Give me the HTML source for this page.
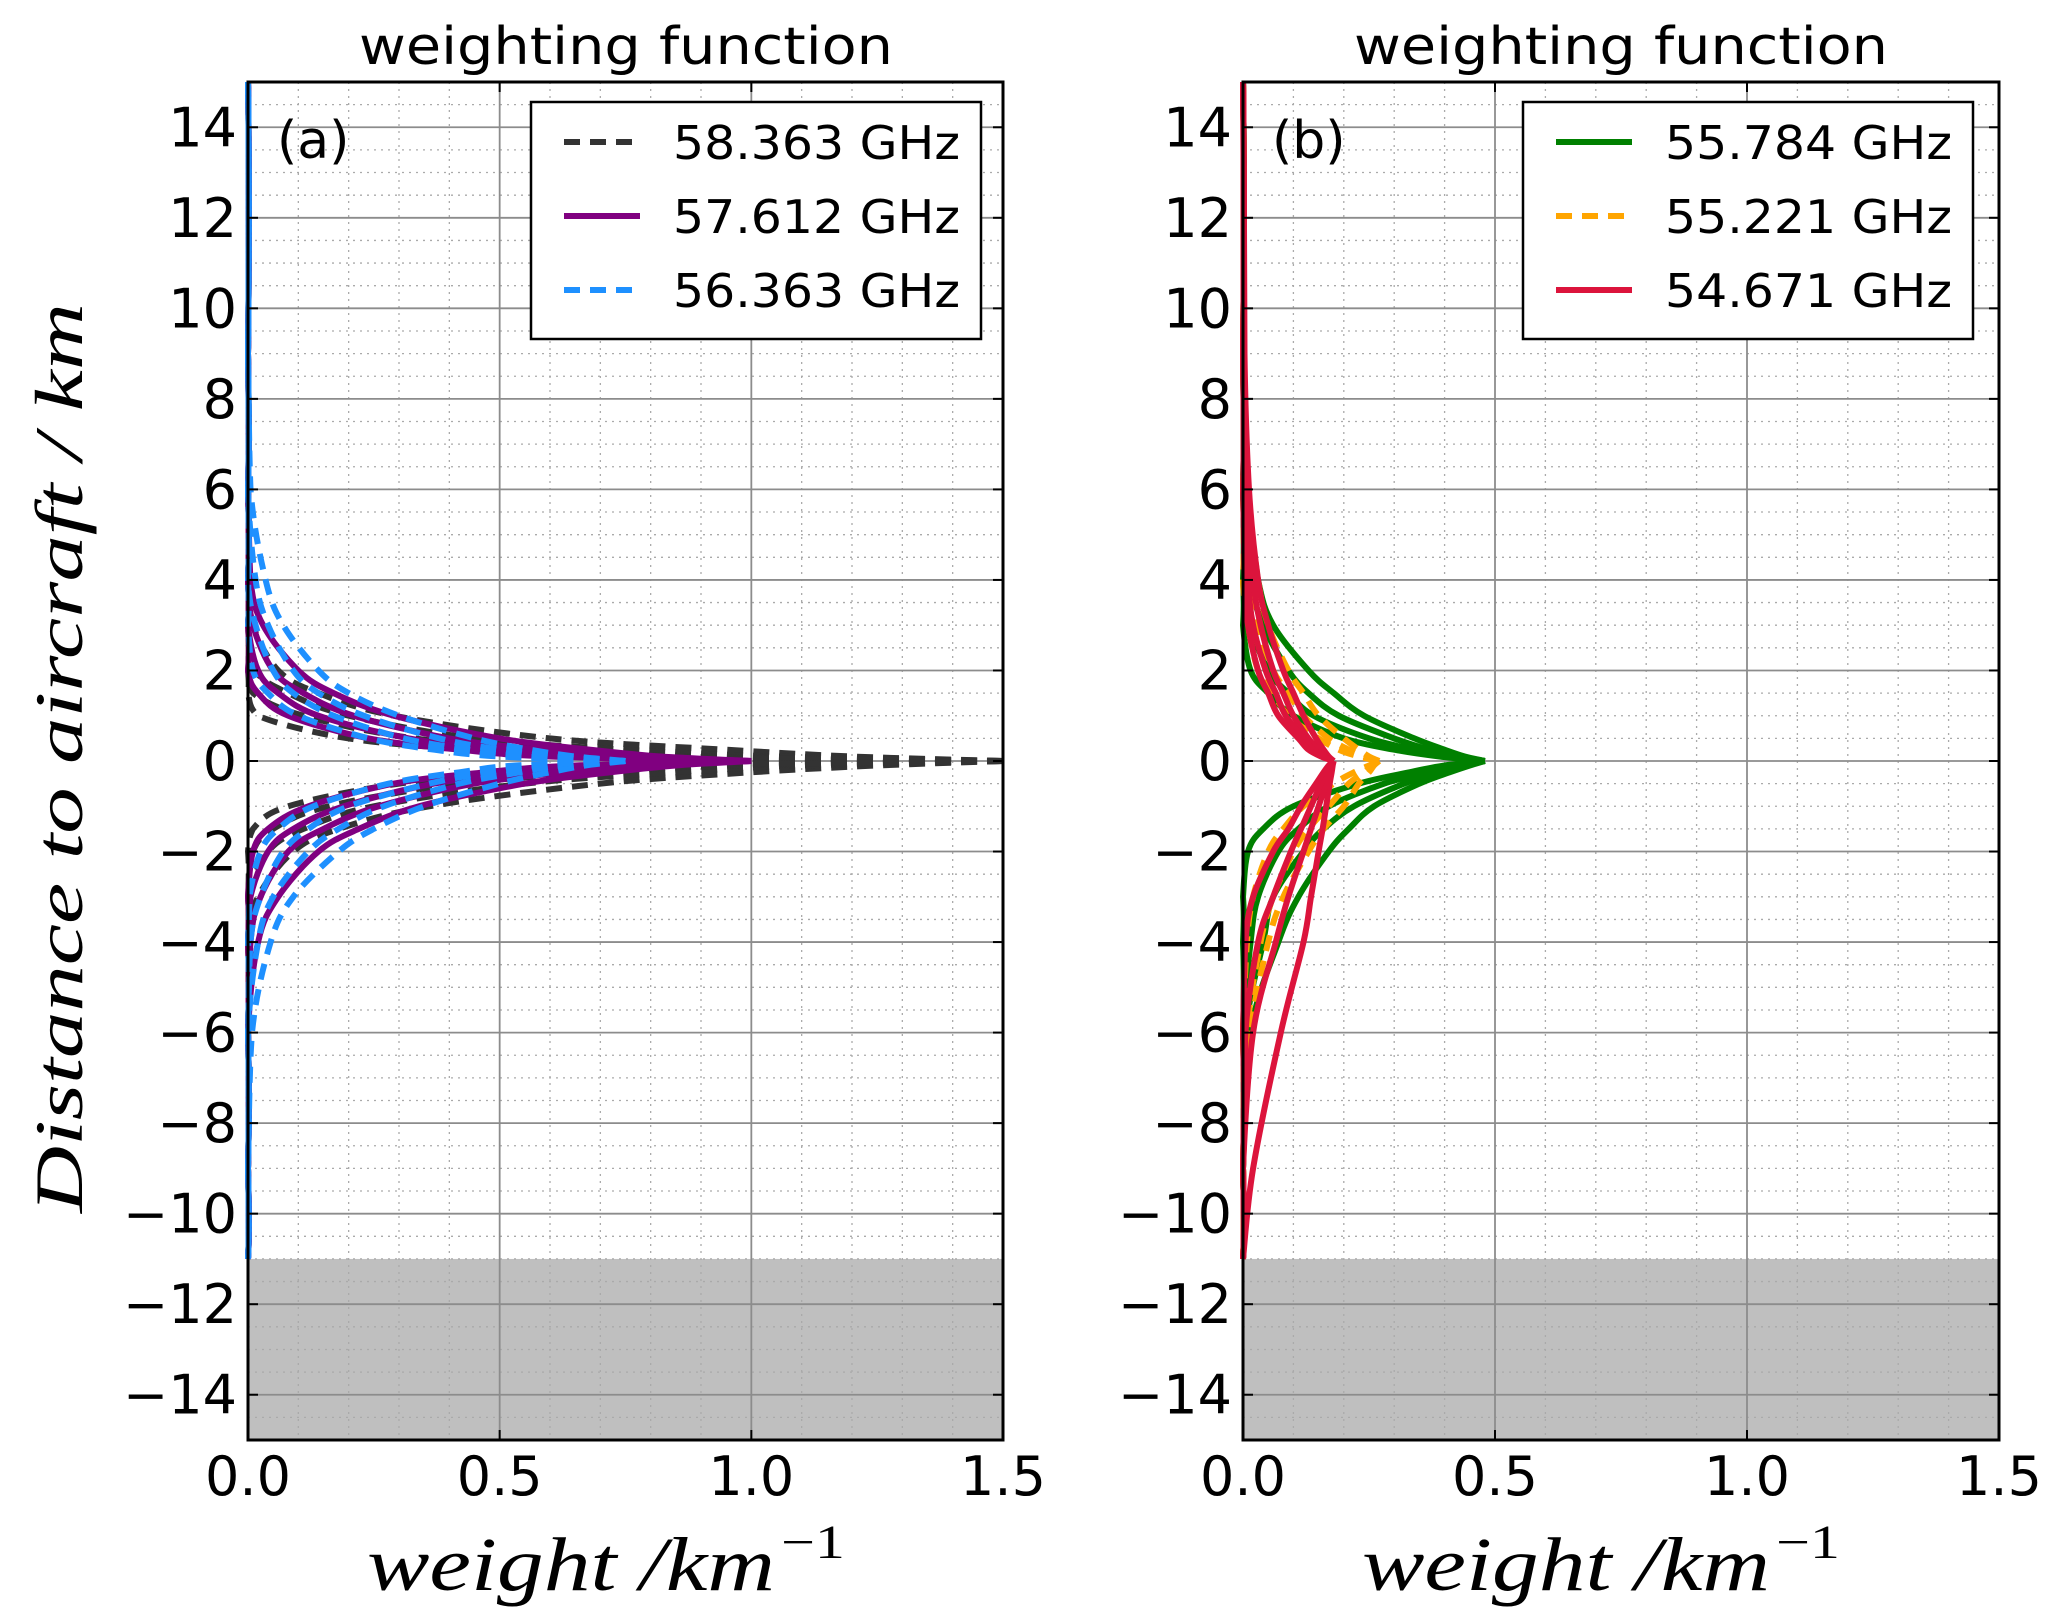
<!DOCTYPE html>
<html><head><meta charset="utf-8">
<style>
html,body{margin:0;padding:0;background:#fff;}
svg{display:block;}
</style></head>
<body>
<svg id="fig" xmlns="http://www.w3.org/2000/svg" width="2067" height="1623" viewBox="0 0 2067 1623">
<rect x="0" y="0" width="2067" height="1623" fill="#fff"/>
<g id="panelA"></g>
<g id="panelB"></g>

<text transform="translate(82,758) rotate(-90)" text-anchor="middle" font-family="Liberation Serif, serif" font-style="italic" font-size="68" textLength="910" lengthAdjust="spacingAndGlyphs">Distance to aircraft / km</text>

<text x="367" y="1590" font-family="Liberation Serif, serif" font-style="italic" font-size="76" textLength="408" lengthAdjust="spacingAndGlyphs">weight /km</text>
<text x="781" y="1558" font-family="Liberation Serif, serif" font-size="48" textLength="64" lengthAdjust="spacingAndGlyphs">−1</text>
<text x="1362" y="1590" font-family="Liberation Serif, serif" font-style="italic" font-size="76" textLength="408" lengthAdjust="spacingAndGlyphs">weight /km</text>
<text x="1776" y="1558" font-family="Liberation Serif, serif" font-size="48" textLength="64" lengthAdjust="spacingAndGlyphs">−1</text>

<text x="626" y="64" text-anchor="middle" font-family="DejaVu Sans, sans-serif" font-size="52" textLength="534" lengthAdjust="spacingAndGlyphs">weighting function</text>
<text x="1621" y="64" text-anchor="middle" font-family="DejaVu Sans, sans-serif" font-size="52" textLength="534" lengthAdjust="spacingAndGlyphs">weighting function</text>
</svg>
<script>
// ---- data ----
const zUp   = [0, 0.1, 0.25, 0.5, 1, 1.5, 2, 3, 4, 6, 9, 15];
const zDown = [0, -0.1, -0.25, -0.5, -1, -1.5, -2, -3, -4, -6, -9, -11];
const xTicks = [0.0, 0.5, 1.0, 1.5];
const xTickLabels = ["0.0", "0.5", "1.0", "1.5"];
const yTicks = [14, 12, 10, 8, 6, 4, 2, 0, -2, -4, -6, -8, -10, -12, -14];
const yTickLabels = ["14","12","10","8","6","4","2","0","−2","−4","−6","−8","−10","−12","−14"];
const surfaceRange = [-11, -15];
const legendA = ["58.363 GHz", "57.612 GHz", "56.363 GHz"];
const legendB = ["55.784 GHz", "55.221 GHz", "54.671 GHz"];

// panel a: 58.363 GHz (black dashed)
const blackUp = [
  [1.5,1.2,.95,.6,.29,.14,.06,.01,0,0,0,0],
  [1.5,1.05,.75,.45,.2,.08,.015,0,0,0,0,0],
  [1.5,.9,.6,.33,.11,.01,0,0,0,0,0,0],
  [1.5,.75,.45,.2,.02,0,0,0,0,0,0,0]];
const blackDown = [
  [1.5,1.25,1.0,.7,.36,.18,.09,.02,0,0,0,0],
  [1.5,1.1,.85,.55,.25,.11,.04,0,0,0,0,0],
  [1.5,.95,.7,.42,.16,.05,.01,0,0,0,0,0],
  [1.5,.8,.55,.3,.08,.01,0,0,0,0,0,0]];
// 57.612 GHz (purple)
const purpleUp = [
  [1,.82,.68,.5,.29,.17,.1,.03,.005,0,0,0],
  [1,.75,.58,.4,.21,.11,.05,.01,0,0,0,0],
  [1,.68,.5,.32,.14,.06,.02,0,0,0,0,0],
  [1,.6,.42,.24,.08,.02,0,0,0,0,0,0]];
const purpleDown = [
  [1,.85,.72,.55,.34,.22,.14,.06,.02,0,0,0],
  [1,.78,.63,.45,.26,.15,.08,.025,.005,0,0,0],
  [1,.72,.55,.37,.19,.09,.04,.005,0,0,0,0],
  [1,.65,.47,.29,.12,.04,.01,0,0,0,0,0]];
// 56.363 GHz (blue dashed)
const blueUp = [
  [.75,.65,.56,.45,.3,.2,.14,.07,.035,.005,0,0],
  [.75,.6,.5,.38,.23,.14,.09,.04,.015,0,0,0],
  [.75,.55,.44,.31,.17,.09,.05,.015,0,0,0,0],
  [.75,.5,.37,.24,.1,.04,.01,0,0,0,0,0]];
const blueDown = [
  [.75,.67,.6,.5,.35,.25,.18,.09,.045,.008,0,0],
  [.75,.62,.54,.42,.27,.18,.12,.05,.02,0,0,0],
  [.75,.58,.48,.36,.2,.12,.07,.025,.005,0,0,0],
  [.75,.53,.42,.28,.13,.06,.025,.003,0,0,0,0]];

// panel b: 55.784 GHz (green)
const greenUp = [
  [.48,.44,.40,.34,.24,.18,.13,.06,.03,.005,0,0],
  [.48,.43,.37,.30,.19,.13,.09,.04,.015,0,0,0],
  [.48,.41,.34,.25,.14,.09,.05,.015,.003,0,0,0],
  [.48,.39,.30,.20,.10,.05,.015,0,0,0,0,0]];
const greenDown = [
  [.48,.45,.41,.35,.26,.21,.17,.11,.07,.015,0,0],
  [.48,.44,.39,.32,.22,.16,.12,.06,.04,.005,0,0],
  [.48,.43,.37,.28,.17,.11,.07,.03,.015,0,0,0],
  [.48,.40,.33,.23,.10,.04,.01,0,0,0,0,0]];
// 55.221 GHz (orange dashed)
const orangeUp = [
  [.27,.25,.23,.20,.15,.12,.09,.05,.03,.01,0,0],
  [.27,.24,.21,.17,.12,.09,.06,.03,.015,.003,0,0],
  [.27,.23,.19,.15,.09,.06,.03,.01,0,0,0,0]];
const orangeDown = [
  [.27,.26,.25,.23,.20,.16,.13,.08,.05,.015,0,0],
  [.27,.255,.24,.21,.17,.13,.10,.06,.035,.008,0,0],
  [.27,.25,.22,.18,.12,.08,.05,.02,.008,0,0,0]];
// 54.671 GHz (red)
const redUp = [
  [.18,.17,.16,.145,.12,.10,.08,.05,.03,.012,.003,0],
  [.18,.165,.15,.13,.10,.08,.06,.035,.02,.006,0,0],
  [.18,.16,.14,.12,.085,.065,.045,.02,.01,.002,0,0],
  [.18,.155,.13,.11,.07,.05,.03,.01,.003,0,0,0]];
const redDown = [
  [.18,.178,.176,.172,.165,.158,.15,.135,.12,.075,.02,0],
  [.18,.175,.172,.165,.15,.135,.12,.09,.065,.02,0,0],
  [.18,.174,.168,.155,.135,.115,.095,.06,.03,.005,0,0],
  [.18,.17,.16,.145,.115,.09,.06,.02,.005,0,0,0]];

// ---- drawing ----
const NS = "http://www.w3.org/2000/svg";
const TOP = 82, BOT = 1440, YMIN = -15, YMAX = 15, XMIN = 0, XMAX = 1.5;
function mk(tag, attrs, parent) {
  const e = document.createElementNS(NS, tag);
  for (const k in attrs) e.setAttribute(k, attrs[k]);
  parent.appendChild(e);
  return e;
}
function makeAxes(left, right) {
  return {
    x: v => left + (v - XMIN) / (XMAX - XMIN) * (right - left),
    y: v => TOP + (YMAX - v) / (YMAX - YMIN) * (BOT - TOP),
    left, right
  };
}
let minX = 0;
function smoothPath(pts) {
  let d = "M" + pts[0][0].toFixed(1) + "," + pts[0][1].toFixed(1);
  for (let i = 0; i < pts.length - 1; i++) {
    const p0 = pts[Math.max(0, i - 1)], p1 = pts[i], p2 = pts[i + 1], p3 = pts[Math.min(pts.length - 1, i + 2)];
    const c1 = [p1[0] + (p2[0] - p0[0]) / 6, p1[1] + (p2[1] - p0[1]) / 6];
    const c2 = [p2[0] - (p3[0] - p1[0]) / 6, p2[1] - (p3[1] - p1[1]) / 6];
    if (i === 0) { c1[0] = p1[0] + (p2[0] - p1[0]) / 3; c1[1] = p1[1] + (p2[1] - p1[1]) / 3; }
    c1[0] = Math.max(c1[0], minX); c2[0] = Math.max(c2[0], minX);
    d += " C" + c1[0].toFixed(1) + "," + c1[1].toFixed(1) + " " + c2[0].toFixed(1) + "," + c2[1].toFixed(1) + " " + p2[0].toFixed(1) + "," + p2[1].toFixed(1);
  }
  return d;
}
function drawPanel(g, ax, label, series, legendNames, legendX) {
  minX = ax.left + 1;
  const bg = mk("rect", {x: ax.left, y: TOP, width: ax.right - ax.left, height: BOT - TOP, fill: "#fff"}, g);
  
  
  const shade = mk("rect", {x: ax.left, y: ax.y(surfaceRange[0]), width: ax.right - ax.left, height: ax.y(surfaceRange[1]) - ax.y(surfaceRange[0]), fill: "#bfbfbf"}, g);
  
  
  const grid = mk("g", {}, g);
  
  
  for (let i = 1; i < 15; i++) {
    if (i % 5 === 0) continue;
    const x = ax.x(i * 0.1);
    mk("line", {x1: x, x2: x, y1: TOP, y2: BOT, stroke: "#aaa", "stroke-width": 1.3, "stroke-dasharray": "2,5"}, grid);
  }
  for (let v = -14.5; v < 15; v += 1) {
    const y = ax.y(v);
    mk("line", {x1: ax.left, x2: ax.right, y1: y, y2: y, stroke: "#aaa", "stroke-width": 1.3, "stroke-dasharray": "2,5"}, grid);
  }
  for (let v = -15; v <= 15; v += 1) {
    if (Math.abs(v % 2) === 1) {
      const y = ax.y(v);
      mk("line", {x1: ax.left, x2: ax.right, y1: y, y2: y, stroke: "#aaa", "stroke-width": 1.3, "stroke-dasharray": "2,5"}, grid);
    }
  }
  xTicks.forEach(t => {
    const x = ax.x(t);
    mk("line", {x1: x, x2: x, y1: TOP, y2: BOT, stroke: "#8c8c8c", "stroke-width": 1.8}, grid);
  });
  yTicks.forEach(t => {
    const y = ax.y(t);
    mk("line", {x1: ax.left, x2: ax.right, y1: y, y2: y, stroke: "#8c8c8c", "stroke-width": 1.8}, grid);
  });
  series.forEach(s => {
    const sg = mk("g", {}, g);
    
    
    [[s.up, zUp], [s.down, zDown]].forEach(([arr, zs]) => {
      arr.forEach(vals => {
        const pts = vals.map((w, i) => [ax.x(w), ax.y(zs[i])]);
        const p = mk("path", {d: smoothPath(pts), fill: "none", stroke: s.color, "stroke-width": 6, "stroke-linejoin": "round"}, sg);
        if (s.dash) p.setAttribute("stroke-dasharray", s.dash);
        
        
      });
    });
  });
  const fr = mk("rect", {x: ax.left, y: TOP, width: ax.right - ax.left, height: BOT - TOP, fill: "none", stroke: "#000", "stroke-width": 3}, g);
  
  
  xTicks.forEach((t, i) => {
    const x = ax.x(t);
    mk("line", {x1: x, x2: x, y1: BOT, y2: BOT - 10, stroke: "#000", "stroke-width": 2}, g);
    mk("line", {x1: x, x2: x, y1: TOP, y2: TOP + 10, stroke: "#000", "stroke-width": 2}, g);
    const tx = mk("text", {x: x, y: 1495, "text-anchor": "middle", "font-family": "DejaVu Sans, sans-serif", "font-size": 54}, g);
    tx.textContent = xTickLabels[i];
    
    
  });
  yTicks.forEach((t, i) => {
    const y = ax.y(t);
    mk("line", {x1: ax.left, x2: ax.left + 10, y1: y, y2: y, stroke: "#000", "stroke-width": 2}, g);
    mk("line", {x1: ax.right, x2: ax.right - 10, y1: y, y2: y, stroke: "#000", "stroke-width": 2}, g);
    const ty = mk("text", {x: ax.left - 11, y: y + 19, "text-anchor": "end", "font-family": "DejaVu Sans, sans-serif", "font-size": 54}, g);
    ty.textContent = yTickLabels[i];
    
    
  });
  const pl = mk("text", {x: ax.left + 29, y: 158, "font-family": "DejaVu Sans, sans-serif", "font-size": 52}, g);
  pl.textContent = label;
  
  
  const lg = mk("g", {}, g);
  
  
  mk("rect", {x: legendX, y: 102, width: 450, height: 237, fill: "#fff", stroke: "#000", "stroke-width": 2.5}, lg);
  const ys = [142, 216, 290];
  legendNames.forEach((n, i) => {
    const s = series[i];
    const e = mk("g", {}, lg);
    
    
    const ln = mk("line", {x1: legendX + 33, x2: legendX + 109, y1: ys[i], y2: ys[i], stroke: s.color, "stroke-width": 6}, e);
    if (s.dash) ln.setAttribute("stroke-dasharray", s.dash);
    const t = mk("text", {x: legendX + 142, y: ys[i] + 17, "font-family": "DejaVu Sans, sans-serif", "font-size": 46, textLength: 287, lengthAdjust: "spacingAndGlyphs"}, e);
    t.textContent = n;
  });
}
const axA = makeAxes(248, 1003);
const axB = makeAxes(1243, 1999);
drawPanel(document.getElementById("panelA"), axA, "(a)", [
  {name: "series-58-363", color: "#333333", dash: "16,10", up: blackUp, down: blackDown},
  {name: "series-57-612", color: "#800080", dash: null, up: purpleUp, down: purpleDown},
  {name: "series-56-363", color: "#1e90ff", dash: "16,10", up: blueUp, down: blueDown}
], legendA, 531);
drawPanel(document.getElementById("panelB"), axB, "(b)", [
  {name: "series-55-784", color: "#008000", dash: null, up: greenUp, down: greenDown},
  {name: "series-55-221", color: "#ffa500", dash: "16,10", up: orangeUp, down: orangeDown},
  {name: "series-54-671", color: "#dc143c", dash: null, up: redUp, down: redDown}
], legendB, 1523);
</script>
</body></html>
